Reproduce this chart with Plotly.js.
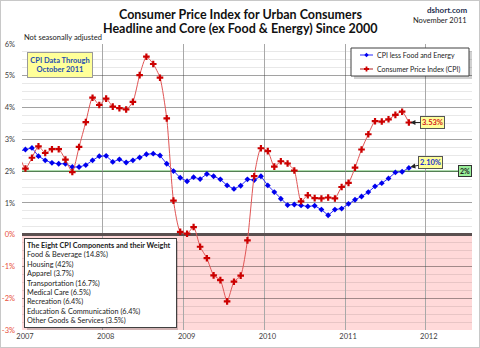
<!DOCTYPE html>
<html>
<head>
<meta charset="utf-8">
<script src="https://cdn.plot.ly/plotly-3.0.1.min.js"></script>
<style>
  html, body { margin: 0; padding: 0; background: #fff; }
  #wrap { position: relative; width: 480px; height: 348px; }
  #chart { width: 480px; height: 348px; }
  #frame { position: absolute; left: 0; top: 0; width: 478px; height: 346px; border: 1px solid #c8c8c8; pointer-events: none; }
</style>
</head>
<body>
<div id="wrap"><div id="chart"></div><div id="frame"></div></div>
<script>
// Months (Dec 2006 - Oct 2011)
const months = [
  "2006-12",
  "2007-01","2007-02","2007-03","2007-04","2007-05","2007-06","2007-07","2007-08","2007-09","2007-10","2007-11","2007-12",
  "2008-01","2008-02","2008-03","2008-04","2008-05","2008-06","2008-07","2008-08","2008-09","2008-10","2008-11","2008-12",
  "2009-01","2009-02","2009-03","2009-04","2009-05","2009-06","2009-07","2009-08","2009-09","2009-10","2009-11","2009-12",
  "2010-01","2010-02","2010-03","2010-04","2010-05","2010-06","2010-07","2010-08","2010-09","2010-10","2010-11","2010-12",
  "2011-01","2011-02","2011-03","2011-04","2011-05","2011-06","2011-07","2011-08","2011-09","2011-10"
];
// CPI less Food and Energy, YoY %
const coreCPI = [
  2.62,
  2.68, 2.73, 2.47, 2.34, 2.26, 2.23, 2.23, 2.13, 2.13, 2.19, 2.34, 2.47,
  2.48, 2.29, 2.37, 2.27, 2.34, 2.43, 2.53, 2.55, 2.49, 2.23, 2.00, 1.79,
  1.68, 1.81, 1.75, 1.91, 1.84, 1.74, 1.55, 1.44, 1.54, 1.74, 1.72, 1.84,
  1.55, 1.34, 1.13, 0.93, 0.95, 0.92, 0.89, 0.91, 0.79, 0.61, 0.79, 0.82,
  0.97, 1.10, 1.20, 1.34, 1.52, 1.62, 1.77, 1.96, 1.98, 2.10
];
// Consumer Price Index (CPI), YoY %
const headlineCPI = [
  2.54,
  2.08, 2.42, 2.78, 2.57, 2.69, 2.69, 2.36, 1.97, 2.76, 3.54, 4.31, 4.08,
  4.28, 4.03, 3.98, 3.94, 4.18, 5.02, 5.60, 5.37, 4.94, 3.66, 1.07, 0.09,
  0.03, 0.24, -0.38, -0.74, -1.28, -1.43, -2.10, -1.48, -1.29, -0.18, 1.84, 2.72,
  2.63, 2.14, 2.31, 2.24, 2.02, 1.05, 1.24, 1.15, 1.14, 1.17, 1.14, 1.50,
  1.63, 2.11, 2.68, 3.16, 3.57, 3.56, 3.63, 3.77, 3.87, 3.53
];
const seriesNames = ["CPI less Food and Energy", "Consumer Price Index (CPI)"];
const yearTicks = ["2007-01-01","2008-01-01","2009-01-01","2010-01-01","2011-01-01","2012-01-01"];
const yearLabels = ["2007","2008","2009","2010","2011","2012"];
const pctTicks = [-3, -2, -1, 0, 1, 2, 3, 4, 5, 6];
const targetRate = 2;
const components = [
  "Food & Beverage (14.8%)",
  "Housing (42%)",
  "Apparel (3.7%)",
  "Transportation (16.7%)",
  "Medical Care (6.5%)",
  "Recreation (6.4%)",
  "Education & Communication (6.4%)",
  "Other Goods & Services (3.5%)"
];

const FONT = 'Lato, "Open Sans", sans-serif';
const L = 22, R = 472, T = 44, B = 330;
const px = p => (p - L) / (R - L);
const py = p => (B - p) / (B - T);

const pctText = pctTicks.map(v => v <= 0 ? '<span style="color:#e8503a">' + v + '%</span>' : v + '%');

const blueLine = '#2a2aff', blueMark = '#0000ee';
const redLine = '#e05555', redMark = '#cc0000';

const traces = [
  {
    x: months, y: coreCPI, type: 'scatter', mode: 'lines+markers',
    name: seriesNames[0], showlegend: false,
    xperiod: 'M1', xperiodalignment: 'middle',
    line: { color: blueLine, width: 1 },
    marker: { symbol: 'diamond', size: 4.5, color: blueMark }
  },
  {
    x: months, y: headlineCPI, type: 'scatter', mode: 'lines+markers',
    name: seriesNames[1], showlegend: false,
    xperiod: 'M1', xperiodalignment: 'middle',
    line: { color: redLine, width: 1, shape: 'spline', smoothing: 0.6 },
    marker: { symbol: 'cross', size: 5.5, color: redMark }
  }
];

// custom legend geometry (pixels)
const LG = { x0: 351, x1: 469, y0: 48, y1: 76, rows: [55, 69], s0: 360, s1: 373, tx: 375 };
function diamond(cx, cy, r) {
  return 'M' + px(cx - r) + ',' + py(cy) + ' L' + px(cx) + ',' + py(cy - r) + ' L' + px(cx + r) + ',' + py(cy) +
         ' L' + px(cx) + ',' + py(cy + r) + ' Z';
}
function crossPath(cx, cy, r, w) {
  return 'M' + px(cx - w) + ',' + py(cy - r) + ' L' + px(cx + w) + ',' + py(cy - r) + ' L' + px(cx + w) + ',' + py(cy - w) +
         ' L' + px(cx + r) + ',' + py(cy - w) + ' L' + px(cx + r) + ',' + py(cy + w) + ' L' + px(cx + w) + ',' + py(cy + w) +
         ' L' + px(cx + w) + ',' + py(cy + r) + ' L' + px(cx - w) + ',' + py(cy + r) + ' L' + px(cx - w) + ',' + py(cy + w) +
         ' L' + px(cx - r) + ',' + py(cy + w) + ' L' + px(cx - r) + ',' + py(cy - w) + ' L' + px(cx - w) + ',' + py(cy - w) + ' Z';
}
const smid = (LG.s0 + LG.s1) / 2;

const lastI = months.length - 1;
const layout = {
  width: 480, height: 348,
  margin: { l: L, r: 480 - R, t: T, b: 348 - B, pad: 0 },
  paper_bgcolor: '#ffffff', plot_bgcolor: '#ffffff',
  font: { family: FONT, size: 8, color: '#404040' },
  showlegend: false,
  xaxis: {
    type: 'date', range: ['2007-01-01', '2012-07-28'],
    tickmode: 'array', tickvals: yearTicks, ticktext: yearLabels,
    showgrid: true, gridcolor: '#a8a8a8', gridwidth: 1,
    zeroline: false, showline: false, ticks: '',
    tickfont: { family: FONT, size: 7.5, color: '#404040' },
    ticklabelshift: 3, fixedrange: true
  },
  yaxis: {
    range: [-3, 6], tickmode: 'array', tickvals: pctTicks, ticktext: pctText,
    showgrid: true, gridcolor: 'rgba(0,0,0,0.3)', gridwidth: 1,
    minor: { dtick: 0.25, showgrid: true, gridcolor: 'rgba(0,0,0,0.09)', gridwidth: 1 },
    zeroline: true, zerolinecolor: '#5a5050', zerolinewidth: 2.5,
    showline: false, ticks: '', ticklabelstandoff: 6,
    tickfont: { family: FONT, size: 7.5, color: '#404040' }, fixedrange: true
  },
  shapes: [
    { type: 'rect', xref: 'paper', yref: 'y', x0: 0, x1: 1, y0: -3, y1: 0,
      fillcolor: '#ffd9d9', line: { width: 0 }, layer: 'below' },
    { type: 'line', xref: 'paper', yref: 'y', x0: 0, x1: 1, y0: targetRate, y1: targetRate,
      line: { color: '#5cb85c', width: 1.2 }, layer: 'between' },
    // shadow of components box
    { type: 'rect', xref: 'paper', yref: 'paper', x0: px(27), x1: px(178), y0: py(330), y1: py(241),
      fillcolor: 'rgba(0,0,0,0.18)', line: { width: 0 }, layer: 'above' },
    // legend: shadow, box, samples
    { type: 'rect', xref: 'paper', yref: 'paper', x0: px(LG.x0 + 3), x1: px(LG.x1 + 3), y0: py(LG.y1 + 3), y1: py(LG.y0 + 3),
      fillcolor: 'rgba(0,0,0,0.18)', line: { width: 0 }, layer: 'above' },
    { type: 'rect', xref: 'paper', yref: 'paper', x0: px(LG.x0), x1: px(LG.x1), y0: py(LG.y1), y1: py(LG.y0),
      fillcolor: '#ffffff', line: { color: '#404040', width: 1 }, layer: 'above' },
    { type: 'line', xref: 'paper', yref: 'paper', x0: px(LG.s0), x1: px(LG.s1), y0: py(LG.rows[0]), y1: py(LG.rows[0]),
      line: { color: blueLine, width: 1 }, layer: 'above' },
    { type: 'path', xref: 'paper', yref: 'paper', path: diamond(smid, LG.rows[0], 2.2),
      fillcolor: blueMark, line: { width: 0 }, layer: 'above' },
    { type: 'line', xref: 'paper', yref: 'paper', x0: px(LG.s0), x1: px(LG.s1), y0: py(LG.rows[1]), y1: py(LG.rows[1]),
      line: { color: '#b02020', width: 1 }, layer: 'above' },
    { type: 'path', xref: 'paper', yref: 'paper', path: crossPath(smid, LG.rows[1], 2.5, 0.9),
      fillcolor: redMark, line: { width: 0 }, layer: 'above' }
  ],
  annotations: [
    { text: '<b>Consumer Price Index for Urban Consumers</b>', xref: 'paper', yref: 'paper', x: px(240), y: py(14),
      xanchor: 'center', yanchor: 'middle', showarrow: false,
      font: { family: FONT, size: 12.5, color: '#111111' } },
    { text: '<b>Headline and Core (ex Food & Energy) Since 2000</b>', xref: 'paper', yref: 'paper', x: px(240), y: py(29),
      xanchor: 'center', yanchor: 'middle', showarrow: false,
      font: { family: FONT, size: 12.5, color: '#111111' } },
    { text: '<b>dshort.com</b>', xref: 'paper', yref: 'paper', x: px(469), y: py(10),
      xanchor: 'right', yanchor: 'middle', showarrow: false,
      font: { family: FONT, size: 8, color: '#1f3050' } },
    { text: 'November 2011', xref: 'paper', yref: 'paper', x: px(469), y: py(20.5),
      xanchor: 'right', yanchor: 'middle', showarrow: false,
      font: { family: FONT, size: 7.5, color: '#222' } },
    { text: 'Not seasonally adjusted', xref: 'paper', yref: 'paper', x: px(22), y: py(38),
      xanchor: 'left', yanchor: 'middle', showarrow: false,
      font: { family: FONT, size: 7.5, color: '#222' } },
    { text: seriesNames[0], xref: 'paper', yref: 'paper', x: px(LG.tx), y: py(LG.rows[0]),
      xanchor: 'left', yanchor: 'middle', showarrow: false,
      font: { family: FONT, size: 7, color: '#222' } },
    { text: seriesNames[1], xref: 'paper', yref: 'paper', x: px(LG.tx), y: py(LG.rows[1]),
      xanchor: 'left', yanchor: 'middle', showarrow: false,
      font: { family: FONT, size: 7, color: '#222' } },
    { text: '<b>CPI Data Through<br>October 2011</b>', xref: 'paper', yref: 'paper',
      x: px(59.5), y: py(65), xanchor: 'center', yanchor: 'middle', showarrow: false,
      width: 62, height: 22, align: 'center',
      bgcolor: '#ffff99', bordercolor: '#999999', borderwidth: 1, borderpad: 1,
      font: { family: FONT, size: 7.5, color: '#1f4fb0' } },
    { text: '<b>The Eight CPI Components and their Weight</b><br>' + components.join('<br>'),
      xref: 'paper', yref: 'paper', x: px(24), y: py(238), xanchor: 'left', yanchor: 'top',
      showarrow: false, align: 'left', width: 147, height: 84,
      bgcolor: '#ffffff', bordercolor: '#404040', borderwidth: 1, borderpad: 2,
      font: { family: FONT, size: 7.3, color: '#222' } },
    { text: '<b>3.53%</b>', x: months[lastI], y: headlineCPI[lastI], xref: 'x', yref: 'y',
      showarrow: true, ax: 27, ay: 0, arrowhead: 2, arrowsize: 1, arrowwidth: 1, arrowcolor: '#222',
      standoff: 5, bgcolor: '#ffff99', bordercolor: '#555', borderwidth: 1, borderpad: 1,
      font: { family: FONT, size: 7.5, color: '#d02020' } },
    { text: '<b>2.10%</b>', x: months[lastI], y: coreCPI[lastI], xref: 'x', yref: 'y',
      showarrow: true, ax: 25, ay: -5, arrowhead: 2, arrowsize: 1, arrowwidth: 1, arrowcolor: '#222',
      standoff: 5, bgcolor: '#ffff99', bordercolor: '#555', borderwidth: 1, borderpad: 1,
      font: { family: FONT, size: 7.5, color: '#2030d0' } },
    { text: '<b>2%</b>', xref: 'paper', yref: 'y', x: px(464.5), y: targetRate,
      xanchor: 'center', yanchor: 'middle', showarrow: false,
      bgcolor: '#99ee99', bordercolor: '#333', borderwidth: 1, borderpad: 1,
      font: { family: FONT, size: 7, color: '#222' } }
  ]
};

Plotly.newPlot('chart', traces, layout, { displayModeBar: false, staticPlot: true });
</script>
</body>
</html>
